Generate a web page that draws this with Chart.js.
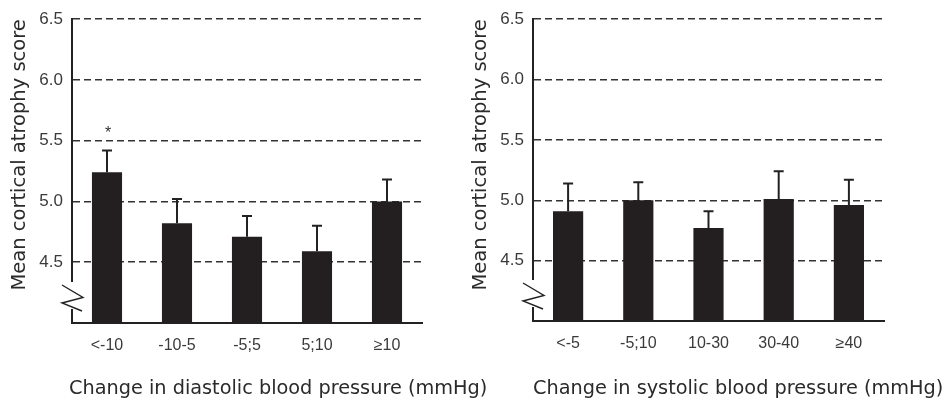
<!DOCTYPE html>
<html>
<head>
<meta charset="utf-8">
<script src="https://cdn.jsdelivr.net/npm/chart.js@4.4.1/dist/chart.umd.min.js"></script>
<style>
  html, body { margin: 0; padding: 0; background: #fff; }
  #wrap { position: relative; width: 947px; height: 399px; overflow: hidden; background: #fff; }
  canvas { position: absolute; top: 0; }
  #c1 { left: 0; }
  #c2 { left: 461px; }
</style>
</head>
<body>
<div id="wrap">
  <canvas id="c1" width="500" height="399"></canvas>
  <canvas id="c2" width="486" height="399"></canvas>
</div>
<script>
// ---- data ----
const diaCategories = ['<-10', '-10-5', '-5;5', '5;10', '\u226510'];
const diaMeans = [5.24, 4.82, 4.71, 4.59, 5.00];
const diaErrTop = [5.42, 5.02, 4.88, 4.80, 5.18];
const diaMarks = ['*', '', '', '', ''];

const sysCategories = ['<-5', '-5;10', '10-30', '30-40', '\u226540'];
const sysMeans = [4.91, 5.00, 4.77, 5.01, 4.96];
const sysErrTop = [5.14, 5.15, 4.91, 5.24, 5.17];
const sysMarks = ['', '', '', '', ''];

const yTickValues = [4.5, 5.0, 5.5, 6.0, 6.5];
const yTitle = 'Mean cortical atrophy score';
const diaTitle = 'Change in diastolic blood pressure (mmHg)';
const sysTitle = 'Change in systolic blood pressure (mmHg)';

// ---- styles ----
const INK = '#222';
const BAR = '#231f20';
const XTICK_FONT = { family: "'Liberation Sans', Arial, sans-serif", size: 16 };
const YTICK_FONT = { family: "'Liberation Sans', Arial, sans-serif", size: 17 };
const TITLE_FONT = { family: "'DejaVu Sans', sans-serif", size: 19.5 };
const XTITLE_FONT = { family: "'DejaVu Sans', sans-serif", size: 19.3 };

const extrasPlugin = {
  id: 'extras',
  afterDatasetsDraw(chart, args, opts) {
    const ctx = chart.ctx;
    const meta = chart.getDatasetMeta(0);
    const y = chart.scales.y;
    ctx.save();
    // error bars
    ctx.strokeStyle = INK;
    ctx.lineWidth = 2;
    meta.data.forEach((bar, i) => {
      const top = y.getPixelForValue(opts.errTop[i]);
      ctx.beginPath();
      ctx.moveTo(bar.x, bar.y);
      ctx.lineTo(bar.x, top);
      ctx.moveTo(bar.x - 5, top);
      ctx.lineTo(bar.x + 5, top);
      ctx.stroke();
      if (opts.marks[i]) {
        ctx.fillStyle = '#333';
        ctx.font = "16px 'Liberation Sans', Arial, sans-serif";
        ctx.textAlign = 'center';
        ctx.textBaseline = 'alphabetic';
        ctx.fillText(opts.marks[i], bar.x + 1, top - 12);
      }
    });
    // axis break symbol
    const ax = chart.chartArea.left;
    const b = chart.chartArea.bottom;
    ctx.fillStyle = '#fff';
    ctx.fillRect(ax - 2, b - 41, 4, 27);
    ctx.strokeStyle = INK;
    ctx.lineWidth = 1.4;
    ctx.beginPath();
    ctx.moveTo(ax - 10, b - 38);
    ctx.lineTo(ax + 11, b - 25.5);
    ctx.lineTo(ax - 10, b - 20);
    ctx.lineTo(ax + 10, b - 12);
    ctx.stroke();
    // x axis title (drawn without width compression)
    ctx.fillStyle = '#2a2a2a';
    ctx.font = XTITLE_FONT.size + "px " + XTITLE_FONT.family;
    ctx.textAlign = 'left';
    ctx.textBaseline = 'alphabetic';
    ctx.fillText(opts.xTitle, ax + opts.xTitleShift, 393.5);
    ctx.restore();
  }
};

function makeChart(id, cats, means, errTop, marks, xTitle, xTitleShift, padRight, xHeight) {
  return new Chart(document.getElementById(id), {
    type: 'bar',
    data: {
      labels: cats,
      datasets: [{
        data: means,
        backgroundColor: BAR,
        borderWidth: 0,
        barPercentage: 0.43,
        categoryPercentage: 1.0
      }]
    },
    options: {
      responsive: false,
      animation: false,
      devicePixelRatio: 1,
      layout: { padding: { left: 0, top: 16, right: padRight, bottom: 0 } },
      plugins: {
        legend: { display: false },
        tooltip: { enabled: false },
        extras: { errTop: errTop, marks: marks, xTitle: xTitle, xTitleShift: xTitleShift }
      },
      scales: {
        x: {
          offset: true,
          grid: { display: false, drawTicks: false },
          border: { display: true, color: INK, width: 2 },
          ticks: { color: '#3a3a3a', font: XTICK_FONT, padding: 13, maxRotation: 0 },
          title: { display: false },
          afterFit(scale) { scale.height = xHeight; }
        },
        y: {
          min: 4, max: 6.5,
          afterBuildTicks(scale) {
            scale.ticks = [{ value: 4 }].concat(yTickValues.map(v => ({ value: v })));
          },
          grid: {
            drawTicks: false,
            lineWidth: 1.5,
            color: (c) => (c.tick && c.tick.value === 4) ? 'rgba(0,0,0,0)' : '#333'
          },
          border: { display: true, color: INK, width: 2, dash: [7, 4] },
          ticks: {
            color: '#3a3a3a', font: YTICK_FONT, padding: 9,
            callback: (v) => v === 4 ? '' : Number(v).toFixed(1)
          },
          title: {
            display: true, text: yTitle, align: 'end',
            color: '#2a2a2a', font: TITLE_FONT, padding: { top: 8, bottom: 0 }
          },
          afterFit(scale) { scale.width = 72; }
        }
      }
    },
    plugins: [extrasPlugin]
  });
}

makeChart('c1', diaCategories, diaMeans, diaErrTop, diaMarks, diaTitle, -3, 78, 76);
makeChart('c2', sysCategories, sysMeans, sysErrTop, sysMarks, sysTitle, 0, 63, 78);
</script>
</body>
</html>
